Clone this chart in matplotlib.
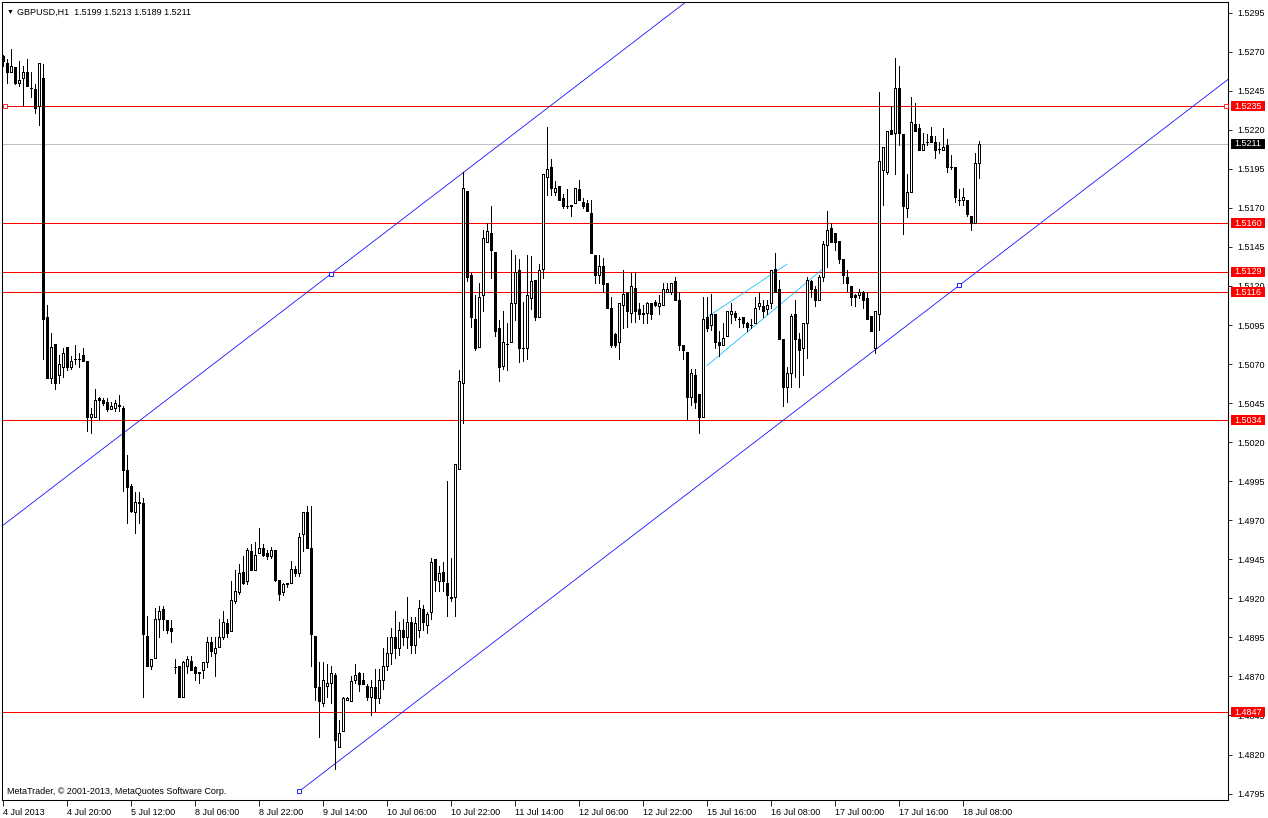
import numpy as np
import matplotlib
matplotlib.use("Agg")
import matplotlib.pyplot as plt
from matplotlib.patches import Rectangle
import matplotlib.transforms as mtransforms

plt.rcParams['font.family'] = ['Liberation Sans', 'DejaVu Sans']
plt.rcParams['font.size'] = 6.5

# GBPUSD H1 bars, 4 Jul 2013 -> 18 Jul 2013
opens = [
    1.5267, 1.5263, 1.5257, 1.5260, 1.5250, 1.5253, 1.5257, 1.5247, 1.5246, 1.5235,
    1.5253, 1.5100, 1.5061, 1.5083, 1.5063, 1.5068, 1.5081, 1.5068, 1.5073, 1.5073,
    1.5076, 1.5072, 1.5036, 1.5036, 1.5048, 1.5047, 1.5046, 1.5041, 1.5042, 1.5044,
    1.5042, 1.5002, 1.4992, 1.4975, 1.4981, 1.4981, 1.4896, 1.4877, 1.4882, 1.4907,
    1.4913, 1.4906, 1.4901, 1.4876, 1.4877, 1.4857, 1.4877, 1.4880, 1.4876, 1.4873,
    1.4874, 1.4879, 1.4892, 1.4885, 1.4889, 1.4895, 1.4904, 1.4899, 1.4918, 1.4924,
    1.4937, 1.4931, 1.4950, 1.4938, 1.4949, 1.4952, 1.4949, 1.4947, 1.4951, 1.4932,
    1.4924, 1.4930, 1.4930, 1.4939, 1.4936, 1.4961, 1.4975, 1.4952, 1.4896, 1.4863,
    1.4853, 1.4864, 1.4866, 1.4871, 1.4825, 1.4835, 1.4855, 1.4854, 1.4868, 1.4872,
    1.4868, 1.4864, 1.4857, 1.4863, 1.4856, 1.4868, 1.4877, 1.4885, 1.4895, 1.4888,
    1.4900, 1.4895, 1.4905, 1.4890, 1.4900, 1.4913, 1.4903, 1.4911, 1.4945, 1.4931,
    1.4937, 1.4930, 1.4920, 1.4921, 1.5003, 1.5058, 1.5181, 1.5127, 1.5099, 1.5081,
    1.5114, 1.5148, 1.5154, 1.5142, 1.5093, 1.5069, 1.5083, 1.5084, 1.5109, 1.5130,
    1.5080, 1.5080, 1.5112, 1.5124, 1.5100, 1.5131, 1.5190, 1.5196, 1.5180, 1.5184,
    1.5176, 1.5171, 1.5172, 1.5173, 1.5182, 1.5174, 1.5173, 1.5167, 1.5140, 1.5127,
    1.5133, 1.5122, 1.5106, 1.5089, 1.5084, 1.5108, 1.5116, 1.5103, 1.5119, 1.5105,
    1.5103, 1.5103, 1.5109, 1.5110, 1.5107, 1.5108, 1.5116, 1.5116, 1.5123, 1.5111,
    1.5082, 1.5078, 1.5049, 1.5063, 1.5051, 1.5036, 1.5100, 1.5095, 1.5102, 1.5084,
    1.5082, 1.5088, 1.5102, 1.5103, 1.5099, 1.5100, 1.5096, 1.5095, 1.5096, 1.5107,
    1.5107, 1.5105, 1.5109, 1.5131, 1.5118, 1.5086, 1.5055, 1.5064, 1.5102, 1.5086,
    1.5080, 1.5096, 1.5123, 1.5118, 1.5111, 1.5126, 1.5146, 1.5157, 1.5154, 1.5149,
    1.5137, 1.5126, 1.5120, 1.5114, 1.5114, 1.5116, 1.5112, 1.5101, 1.5080, 1.5102,
    1.5194, 1.5193, 1.5220, 1.5218, 1.5247, 1.5217, 1.5170, 1.5180, 1.5224, 1.5221,
    1.5207, 1.5212, 1.5216, 1.5212, 1.5208, 1.5207, 1.5210, 1.5196, 1.5196, 1.5175,
    1.5175, 1.5175, 1.5165, 1.5160, 1.5199,
]
highs = [
    1.5268, 1.5265, 1.5272, 1.5260, 1.5264, 1.5261, 1.5265, 1.5257, 1.5249, 1.5263,
    1.5262, 1.5108, 1.5090, 1.5083, 1.5076, 1.5080, 1.5081, 1.5075, 1.5082, 1.5077,
    1.5080, 1.5072, 1.5042, 1.5054, 1.5049, 1.5048, 1.5048, 1.5046, 1.5047, 1.5050,
    1.5043, 1.5012, 1.4993, 1.4988, 1.4988, 1.4984, 1.4909, 1.4881, 1.4914, 1.4915,
    1.4915, 1.4906, 1.4906, 1.4881, 1.4877, 1.4880, 1.4883, 1.4883, 1.4877, 1.4873,
    1.4879, 1.4895, 1.4895, 1.4895, 1.4907, 1.4912, 1.4907, 1.4931, 1.4938, 1.4942,
    1.4947, 1.4952, 1.4955, 1.4956, 1.4965, 1.4955, 1.4951, 1.4953, 1.4951, 1.4932,
    1.4930, 1.4930, 1.4944, 1.4941, 1.4962, 1.4975, 1.4979, 1.4979, 1.4896, 1.4879,
    1.4879, 1.4878, 1.4877, 1.4872, 1.4842, 1.4857, 1.4857, 1.4870, 1.4878, 1.4873,
    1.4872, 1.4865, 1.4868, 1.4875, 1.4875, 1.4888, 1.4895, 1.4901, 1.4912, 1.4905,
    1.4907, 1.4921, 1.4908, 1.4908, 1.4919, 1.4916, 1.4911, 1.4946, 1.4945, 1.4941,
    1.4943, 1.4995, 1.4946, 1.5006, 1.5066, 1.5193, 1.5181, 1.5128, 1.5114, 1.5122,
    1.5156, 1.5160, 1.5171, 1.5142, 1.5098, 1.5104, 1.5096, 1.5143, 1.5140, 1.5137,
    1.5110, 1.5140, 1.5139, 1.5124, 1.5134, 1.5192, 1.5222, 1.5201, 1.5187, 1.5184,
    1.5179, 1.5182, 1.5172, 1.5183, 1.5188, 1.5176, 1.5175, 1.5175, 1.5140, 1.5140,
    1.5138, 1.5122, 1.5113, 1.5090, 1.5109, 1.5130, 1.5116, 1.5128, 1.5129, 1.5109,
    1.5108, 1.5110, 1.5109, 1.5111, 1.5114, 1.5122, 1.5122, 1.5122, 1.5126, 1.5116,
    1.5082, 1.5078, 1.5067, 1.5067, 1.5051, 1.5113, 1.5113, 1.5115, 1.5102, 1.5091,
    1.5096, 1.5104, 1.5109, 1.5104, 1.5100, 1.5100, 1.5097, 1.5099, 1.5113, 1.5116,
    1.5111, 1.5111, 1.5130, 1.5141, 1.5124, 1.5086, 1.5068, 1.5102, 1.5111, 1.5090,
    1.5096, 1.5126, 1.5124, 1.5120, 1.5127, 1.5149, 1.5168, 1.5160, 1.5154, 1.5149,
    1.5137, 1.5130, 1.5120, 1.5115, 1.5118, 1.5117, 1.5116, 1.5101, 1.5104, 1.5244,
    1.5209, 1.5219, 1.5235, 1.5266, 1.5261, 1.5217, 1.5192, 1.5241, 1.5237, 1.5224,
    1.5218, 1.5217, 1.5222, 1.5216, 1.5212, 1.5221, 1.5214, 1.5204, 1.5196, 1.5182,
    1.5183, 1.5175, 1.5165, 1.5205, 1.5213,
]
lows = [
    1.5261, 1.5250, 1.5257, 1.5249, 1.5248, 1.5235, 1.5248, 1.5241, 1.5231, 1.5223,
    1.5073, 1.5061, 1.5058, 1.5054, 1.5058, 1.5062, 1.5066, 1.5067, 1.5070, 1.5068,
    1.5072, 1.5027, 1.5026, 1.5036, 1.5034, 1.5044, 1.5040, 1.5041, 1.5040, 1.5040,
    1.4989, 1.4968, 1.4975, 1.4962, 1.4968, 1.4857, 1.4877, 1.4875, 1.4882, 1.4895,
    1.4900, 1.4898, 1.4892, 1.4872, 1.4857, 1.4857, 1.4872, 1.4874, 1.4868, 1.4866,
    1.4869, 1.4876, 1.4883, 1.4870, 1.4889, 1.4894, 1.4895, 1.4899, 1.4917, 1.4923,
    1.4929, 1.4929, 1.4938, 1.4938, 1.4949, 1.4947, 1.4945, 1.4946, 1.4931, 1.4919,
    1.4922, 1.4927, 1.4930, 1.4934, 1.4934, 1.4950, 1.4952, 1.4877, 1.4855, 1.4831,
    1.4851, 1.4857, 1.4853, 1.4811, 1.4825, 1.4835, 1.4855, 1.4854, 1.4866, 1.4861,
    1.4865, 1.4855, 1.4845, 1.4848, 1.4853, 1.4862, 1.4874, 1.4878, 1.4882, 1.4884,
    1.4890, 1.4888, 1.4885, 1.4885, 1.4895, 1.4900, 1.4898, 1.4907, 1.4925, 1.4925,
    1.4925, 1.4909, 1.4918, 1.4909, 1.5003, 1.5032, 1.5123, 1.5094, 1.5079, 1.5081,
    1.5104, 1.5148, 1.5125, 1.5088, 1.5059, 1.5067, 1.5066, 1.5084, 1.5098, 1.5071,
    1.5072, 1.5073, 1.5105, 1.5098, 1.5100, 1.5125, 1.5178, 1.5178, 1.5178, 1.5175,
    1.5170, 1.5170, 1.5165, 1.5173, 1.5175, 1.5170, 1.5168, 1.5141, 1.5122, 1.5122,
    1.5116, 1.5106, 1.5081, 1.5081, 1.5073, 1.5093, 1.5094, 1.5097, 1.5097, 1.5099,
    1.5096, 1.5096, 1.5099, 1.5107, 1.5102, 1.5108, 1.5116, 1.5115, 1.5111, 1.5079,
    1.5073, 1.5035, 1.5044, 1.5042, 1.5026, 1.5036, 1.5091, 1.5092, 1.5080, 1.5075,
    1.5082, 1.5088, 1.5096, 1.5098, 1.5094, 1.5094, 1.5091, 1.5093, 1.5096, 1.5105,
    1.5100, 1.5102, 1.5106, 1.5116, 1.5086, 1.5043, 1.5046, 1.5055, 1.5062, 1.5055,
    1.5063, 1.5074, 1.5113, 1.5107, 1.5111, 1.5123, 1.5132, 1.5148, 1.5143, 1.5135,
    1.5122, 1.5117, 1.5108, 1.5107, 1.5112, 1.5106, 1.5099, 1.5091, 1.5077, 1.5092,
    1.5172, 1.5192, 1.5217, 1.5192, 1.5210, 1.5153, 1.5164, 1.5180, 1.5219, 1.5207,
    1.5207, 1.5210, 1.5212, 1.5202, 1.5205, 1.5207, 1.5193, 1.5195, 1.5174, 1.5172,
    1.5172, 1.5165, 1.5156, 1.5160, 1.5189,
]
closes = [
    1.5264, 1.5257, 1.5261, 1.5250, 1.5252, 1.5257, 1.5248, 1.5247, 1.5234, 1.5263,
    1.5099, 1.5061, 1.5081, 1.5058, 1.5070, 1.5077, 1.5068, 1.5072, 1.5073, 1.5073,
    1.5072, 1.5036, 1.5038, 1.5047, 1.5047, 1.5045, 1.5041, 1.5043, 1.5045, 1.5043,
    1.5002, 1.4991, 1.4976, 1.4982, 1.4982, 1.4897, 1.4877, 1.4881, 1.4907, 1.4912,
    1.4907, 1.4900, 1.4899, 1.4876, 1.4857, 1.4879, 1.4881, 1.4874, 1.4872, 1.4872,
    1.4879, 1.4892, 1.4886, 1.4888, 1.4895, 1.4905, 1.4898, 1.4919, 1.4925, 1.4936,
    1.4930, 1.4951, 1.4938, 1.4948, 1.4952, 1.4948, 1.4947, 1.4951, 1.4932, 1.4923,
    1.4929, 1.4929, 1.4939, 1.4936, 1.4959, 1.4975, 1.4952, 1.4897, 1.4863, 1.4854,
    1.4868, 1.4866, 1.4872, 1.4829, 1.4834, 1.4856, 1.4856, 1.4867, 1.4871, 1.4865,
    1.4865, 1.4857, 1.4863, 1.4856, 1.4868, 1.4877, 1.4885, 1.4895, 1.4888, 1.4900,
    1.4895, 1.4905, 1.4890, 1.4904, 1.4914, 1.4905, 1.4910, 1.4943, 1.4932, 1.4936,
    1.4931, 1.4922, 1.4921, 1.5006, 1.5059, 1.5183, 1.5126, 1.5100, 1.5080, 1.5113,
    1.5151, 1.5155, 1.5143, 1.5091, 1.5068, 1.5084, 1.5083, 1.5109, 1.5129, 1.5080,
    1.5080, 1.5114, 1.5123, 1.5100, 1.5130, 1.5192, 1.5195, 1.5183, 1.5183, 1.5175,
    1.5171, 1.5171, 1.5171, 1.5183, 1.5175, 1.5171, 1.5168, 1.5141, 1.5127, 1.5133,
    1.5121, 1.5106, 1.5082, 1.5082, 1.5109, 1.5115, 1.5104, 1.5120, 1.5104, 1.5102,
    1.5102, 1.5109, 1.5102, 1.5108, 1.5109, 1.5118, 1.5118, 1.5122, 1.5111, 1.5082,
    1.5079, 1.5049, 1.5064, 1.5046, 1.5036, 1.5099, 1.5093, 1.5102, 1.5084, 1.5082,
    1.5087, 1.5104, 1.5104, 1.5100, 1.5099, 1.5096, 1.5094, 1.5095, 1.5106, 1.5109,
    1.5104, 1.5108, 1.5130, 1.5116, 1.5086, 1.5055, 1.5064, 1.5101, 1.5086, 1.5079,
    1.5096, 1.5124, 1.5118, 1.5111, 1.5126, 1.5147, 1.5156, 1.5148, 1.5148, 1.5137,
    1.5127, 1.5122, 1.5113, 1.5113, 1.5116, 1.5111, 1.5099, 1.5091, 1.5104, 1.5200,
    1.5209, 1.5219, 1.5217, 1.5247, 1.5218, 1.5171, 1.5180, 1.5225, 1.5219, 1.5207,
    1.5211, 1.5212, 1.5212, 1.5207, 1.5208, 1.5209, 1.5196, 1.5196, 1.5177, 1.5175,
    1.5177, 1.5166, 1.5160, 1.5199, 1.5211,
]

time_labels = ["4 Jul 2013", "4 Jul 20:00", "5 Jul 12:00", "8 Jul 06:00", "8 Jul 22:00",
               "9 Jul 14:00", "10 Jul 06:00", "10 Jul 22:00", "11 Jul 14:00", "12 Jul 06:00",
               "12 Jul 22:00", "15 Jul 16:00", "16 Jul 08:00", "17 Jul 00:00", "17 Jul 16:00",
               "18 Jul 08:00"]
label_step = 16

levels = [1.5235, 1.5160, 1.5129, 1.5116, 1.5034, 1.4847]
bid = 1.5211

# equidistant channel: two points of the base line, one point of the parallel line
channel_bars = [74.05, 239.08, 82.0]
channel_prices = [1.47965, 1.51204, 1.51277]

# small channel inside 15-16 Jul
small_bars = [176.0, 196.0, 176.0, 205.0]
small_prices = [1.5100, 1.5134, 1.5069, 1.5131]

LW = 0.6  # ~1 px, drawn without antialiasing like the terminal does
DLW = 0.55  # diagonal lines
W, H = 1268, 818
fig = plt.figure(figsize=(W / 100, H / 100), dpi=100)
ax = fig.add_axes([2 / W, 18 / H, 1226 / W, 798 / H])

n = len(opens)
x = np.arange(n)
o = np.array(opens)
c = np.array(closes)

ax.vlines(x, lows, highs, color='black', lw=LW, antialiased=False, zorder=3)
for i in range(n):
    lo, hi = min(o[i], c[i]), max(o[i], c[i])
    face = 'white' if c[i] >= o[i] else 'black'
    ax.add_patch(Rectangle((i - 0.25, lo), 0.5, hi - lo, facecolor=face,
                           edgecolor='black', lw=LW, antialiased=False, zorder=4))

# horizontal levels
for lv in levels:
    ax.axhline(lv, color='#FF0000', lw=LW, antialiased=False, zorder=2)
ax.axhline(bid, color='#C0C0C0', lw=LW, antialiased=False, zorder=1)
ax.plot([0.6, 305.7], [levels[0], levels[0]], ls='none', marker='s', ms=3,
        mfc='white', mec='#FF0000', mew=LW, zorder=5, clip_on=False)

# blue channel
b1, b2, b3 = channel_bars
p1, p2, p3 = channel_prices
slope = (p2 - p1) / (b2 - b1)
ax.plot([b1, 400], [p1, p1 + slope * (400 - b1)], color='#0000FF', lw=DLW, zorder=2)
ax.axline((b3, p3), slope=slope, color='#0000FF', lw=DLW, zorder=2)
ax.plot(channel_bars, channel_prices, ls='none', marker='s', ms=3, mfc='white',
        mec='#0000FF', mew=LW, zorder=5)

# small cyan channel
ax.plot(small_bars[:2], small_prices[:2], color='#00BFFF', lw=DLW, zorder=2)
ax.plot(small_bars[2:], small_prices[2:], color='#00BFFF', lw=DLW, zorder=2)

ax.set_xlim(-0.25, 306.25)
ax.set_ylim(1.47909, 1.53018)

ax.yaxis.tick_right()
yt = np.arange(1.4795, 1.5296, 0.0025)
ax.set_yticks(yt)
ax.set_yticklabels([f"{v:.4f}" for v in yt])
ax.tick_params(axis='y', length=3, width=LW, pad=4, labelsize=6.5)

xt = np.arange(len(time_labels)) * label_step
ax.set_xticks(xt)
ax.set_xticklabels(time_labels, ha='left')
ax.tick_params(axis='x', length=4, width=LW, pad=1.5, labelsize=6.5)

for s in ax.spines.values():
    s.set_linewidth(0.75)

# price boxes on the right scale
blend = mtransforms.blended_transform_factory(fig.transFigure, ax.transData)
box_h = 10 / (798 / (1.53018 - 1.47909))
for lv, fc in [(v, '#FF0000') for v in levels] + [(bid, 'black')]:
    ax.add_artist(Rectangle((1231 / W, lv - box_h / 2), 34 / W, box_h, transform=blend,
                            facecolor=fc, edgecolor='none', clip_on=False, zorder=6))
    ax.text(1248 / W, lv, f"{lv:.4f}", transform=blend, ha='center', va='center',
            color='white', fontsize=6.5, clip_on=False, zorder=7)

ax.text(0.004, 0.987, "\u25BC", transform=ax.transAxes, ha='left', va='center', fontsize=5)
ax.text(0.0125, 0.987, "GBPUSD,H1  " + " ".join(f"{v:.4f}" for v in
        [opens[-1], highs[-1], lows[-1], closes[-1]]),
        transform=ax.transAxes, ha='left', va='center')
ax.text(0.004, 0.011, "MetaTrader, \u00A9 2001-2013, MetaQuotes Software Corp.",
        transform=ax.transAxes, ha='left', va='center')

fig.savefig("out.png", dpi=100)
